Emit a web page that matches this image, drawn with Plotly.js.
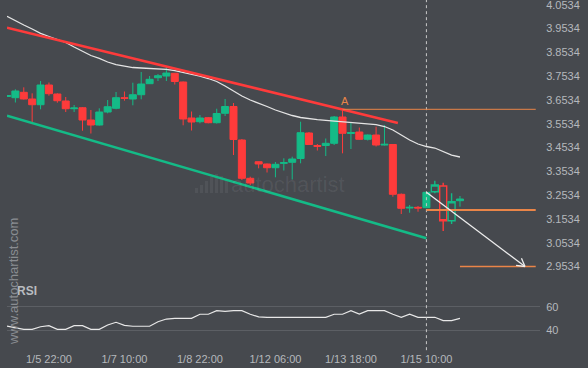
<!DOCTYPE html>
<html><head><meta charset="utf-8">
<script src="https://cdn.plot.ly/plotly-3.0.1.min.js"></script>
<style>html,body{margin:0;padding:0;background:#46494e;overflow:hidden}#chart{width:588px;height:368px}</style>
</head><body><div id="chart"></div>
<script>
// ---- data ----
const candleIndex = [0,1,2,3,4,5,6,7,8,9,10,11,12,13,14,15,16,17,18,19,20,21,22,23,24,25,26,27,28,29,30,31,32,33,34,35,36,37,38,39,40,41,42,43,44,45,46,47,48,49,50,51,52,53,54];
const openP  = [3.6677,3.6627,3.6853,3.6572,3.6332,3.7160,3.6782,3.6488,3.6164,3.6206,3.5690,3.5479,3.6026,3.6181,3.6627,3.6572,3.6752,3.7215,3.7467,3.7538,3.7652,3.7286,3.5774,3.5618,3.5786,3.5576,3.5971,3.6257,3.4849,3.3240,3.3937,3.3841,3.3685,3.3870,3.3912,3.4072,3.5143,3.4618,3.4618,3.4710,3.5816,3.5122,3.5185,3.4879,3.5059,3.4639,3.4660,3.2568,3.1992,3.2021,3.2005,3.2677,3.2916,3.1458,3.2299];
const highP  = [3.6740,3.6979,3.7063,3.6811,3.7328,3.7265,3.6811,3.6656,3.6320,3.6236,3.6110,3.6181,3.6530,3.6866,3.6887,3.7257,3.7706,3.7538,3.7622,3.7929,3.7664,3.7307,3.6047,3.5900,3.5816,3.6164,3.6572,3.6404,3.4891,3.3307,3.3946,3.3862,3.3925,3.4080,3.4148,3.5618,3.5185,3.4681,3.4912,3.5858,3.6173,3.5584,3.5374,3.5080,3.5408,3.5479,3.4681,3.2601,3.2118,3.2076,3.2664,3.3139,3.3055,3.2610,3.2496];
const lowP   = [3.6656,3.6425,3.6551,3.5605,3.6139,3.6711,3.6416,3.6026,3.6026,3.5240,3.5122,3.5458,3.5971,3.6139,3.6500,3.6307,3.6559,3.7202,3.7328,3.7328,3.7181,3.5467,3.5248,3.5551,3.5551,3.5542,3.5858,3.4219,3.3169,3.2958,3.3660,3.3484,3.3282,3.3568,3.3190,3.3870,3.4639,3.4408,3.4177,3.4639,3.4290,3.4471,3.4849,3.4828,3.4576,3.4618,3.2467,3.1740,3.1794,3.1836,3.1992,3.2610,3.1026,3.1320,3.2047];
const closeP = [3.6719,3.6908,3.6572,3.6332,3.7160,3.6795,3.6500,3.6164,3.6194,3.5690,3.5479,3.6026,3.6248,3.6627,3.6601,3.6752,3.7202,3.7400,3.7551,3.7664,3.7307,3.5732,3.5605,3.5774,3.5576,3.5963,3.6257,3.4870,3.3240,3.3042,3.3841,3.3685,3.3828,3.3895,3.4051,3.5156,3.4660,3.4584,3.4710,3.5816,3.5131,3.5164,3.4879,3.5059,3.4639,3.4668,3.2568,3.1979,3.2021,3.1992,3.2652,3.2958,3.1458,3.2257,3.2370];
const hollowCandles = [51,52,53];
const maValues = [4.0047,3.9849,3.9681,3.9513,3.9332,3.9198,3.9072,3.8946,3.8757,3.8589,3.8400,3.8282,3.8127,3.8021,3.7958,3.7895,3.7874,3.7853,3.7853,3.7820,3.7769,3.7694,3.7622,3.7538,3.7433,3.7307,3.7118,3.6908,3.6698,3.6530,3.6404,3.6257,3.6110,3.5984,3.5879,3.5795,3.5740,3.5702,3.5677,3.5648,3.5635,3.5618,3.5584,3.5555,3.5500,3.5416,3.5269,3.5059,3.4849,3.4681,3.4576,3.4513,3.4366,3.4219,3.4135];
const rsiValues = [43.4,42.3,40.6,40.6,42.8,43.7,40.6,40.6,43.7,43.7,40.6,40.6,44.3,46.6,44.0,43.2,43.2,43.2,47.1,49.4,50.0,50.0,50.0,53.5,53.5,56.6,56.0,56.6,56.6,53.5,51.2,50.9,50.9,50.9,50.9,50.9,50.9,50.9,50.9,53.5,53.5,56.6,53.7,56.6,56.6,56.6,53.5,50.9,53.5,50.9,50.9,50.9,48.0,48.0,50.0];
const xTickIndex = [5,14,23,32,41,50];
const xTickLabels = ['1/5 22:00','1/7 10:00','1/8 22:00','1/12 06:00','1/13 18:00','1/15 10:00'];
const priceTicks = [2.9534,3.0534,3.1534,3.2534,3.3534,3.4534,3.5534,3.6534,3.7534,3.8534,3.9534,4.0534];
const priceTickLabels = ['2.9534','3.0534','3.1534','3.2534','3.3534','3.4534','3.5534','3.6534','3.7534','3.8534','3.9534','4.0534'];
const rsiTicks = [40,60];
const resistanceX = [0,46.6];
const resistanceY = [3.9568,3.5563];
const supportX = [0,50];
const supportY = [3.5870,3.0719];
const patternIndex = 40, patternLevel = 3.6139;
const currentIndex = 50, currentPrice = 3.2652;
const entryLevel = 3.1908;
const targetLevel = 2.9534, targetIndex = 61.75, targetLineStart = 54;
const levelsEnd = 63.03;

// ---- styles ----
const BG = '#46494e', GREEN = '#14bb87', RED = '#fe3b3b', ORANGE = '#ea8548';
const TXT = '#b5b8bc';
const FONT = 'Liberation Sans, Arial, sans-serif';
const xRange = [0, 63.54], yRange = [2.8967, 4.0732];
const mL = 7, plotW = 533, plotH = 345, priceH = 280;

function pick(arr, idx){ return idx.map(i => arr[i]); }
const solidIdx = candleIndex.filter(i => hollowCandles.indexOf(i) < 0);

const traces = [
  {type:'candlestick', x:pick(candleIndex,solidIdx), open:pick(openP,solidIdx), high:pick(highP,solidIdx), low:pick(lowP,solidIdx), close:pick(closeP,solidIdx),
   increasing:{line:{color:GREEN,width:1},fillcolor:GREEN}, decreasing:{line:{color:RED,width:1},fillcolor:RED},
   whiskerwidth:0, xaxis:'x', yaxis:'y', hoverinfo:'skip'},
  {type:'candlestick', x:hollowCandles, open:pick(openP,hollowCandles), high:pick(highP,hollowCandles), low:pick(lowP,hollowCandles), close:pick(closeP,hollowCandles),
   increasing:{line:{color:GREEN,width:1.4},fillcolor:'rgba(0,0,0,0)'}, decreasing:{line:{color:RED,width:1.4},fillcolor:'rgba(0,0,0,0)'},
   whiskerwidth:0, xaxis:'x', yaxis:'y', hoverinfo:'skip'},
  {type:'scatter', mode:'lines', x:candleIndex, y:maValues, line:{color:'#e4e4e4',width:1.3}, xaxis:'x', yaxis:'y', hoverinfo:'skip'},
  {type:'scatter', mode:'lines', x:resistanceX, y:resistanceY, line:{color:RED,width:2.6}, xaxis:'x', yaxis:'y', hoverinfo:'skip'},
  {type:'scatter', mode:'lines', x:supportX, y:supportY, line:{color:GREEN,width:2.6}, xaxis:'x', yaxis:'y', hoverinfo:'skip'},
  {type:'scatter', mode:'lines', x:candleIndex, y:rsiValues, line:{color:'#e8e8e8',width:1.2}, xaxis:'x', yaxis:'y2', hoverinfo:'skip'}
];

// arrow head arms, computed from the pixel scale of the axes (pixel y grows downward)
const pxPerX = plotW/(xRange[1]-xRange[0]);
const pxPerY = priceH/(yRange[1]-yRange[0]);
const dxp = (targetIndex-currentIndex)*pxPerX, dyp = (currentPrice-targetLevel)*pxPerY;
const len = Math.hypot(dxp,dyp), ux = dxp/len, uy = dyp/len;
function arm(angle){
  const c=Math.cos(angle), s=Math.sin(angle), bx=-ux, by=-uy;
  const rx = bx*c - by*s, ry = bx*s + by*c, L = 9;
  return {type:'line', xref:'x', yref:'y', x0:targetIndex, y0:targetLevel, x1:targetIndex + rx*L/pxPerX, y1:targetLevel - ry*L/pxPerY, line:{color:'#eeeeee',width:1.3}};
}

// faint logo bars of the watermark (pixel boxes converted to paper coords)
const logoBars = [[195,188],[200,185],[205,181],[210,177],[215,174],[220,176],[225,179]];
const WM = 'rgba(255,255,255,0.06)';
const logoShapes = logoBars.map(b => ({type:'rect', xref:'paper', yref:'paper', layer:'below',
  x0:(b[0]-mL)/plotW, x1:(b[0]+3-mL)/plotW, y0:(plotH-193)/plotH, y1:(plotH-b[1])/plotH, line:{width:0}, fillcolor:WM}));

const shapes = [
  {type:'line', xref:'x', yref:'paper', x0:currentIndex, x1:currentIndex, y0:-0.015, y1:1, line:{color:'#c9c9c9',width:1,dash:'3px,3px'}},
  {type:'line', xref:'x', yref:'y', x0:patternIndex, x1:levelsEnd, y0:patternLevel, y1:patternLevel, line:{color:ORANGE,width:1}},
  {type:'line', xref:'x', yref:'y', x0:currentIndex, x1:levelsEnd, y0:entryLevel, y1:entryLevel, line:{color:ORANGE,width:1.8}},
  {type:'line', xref:'x', yref:'y', x0:targetLineStart, x1:levelsEnd, y0:targetLevel, y1:targetLevel, line:{color:ORANGE,width:1.5}},
  {type:'line', xref:'x', yref:'y', x0:currentIndex, y0:currentPrice, x1:targetIndex, y1:targetLevel, line:{color:'#eeeeee',width:1.3}},
  arm(Math.PI/6), arm(-Math.PI/6)
].concat(logoShapes);

const annotations = [
  {xref:'x', yref:'y', x:40.3, y:patternLevel, text:'A', showarrow:false, yanchor:'bottom', yshift:0, font:{family:FONT,size:11,color:ORANGE}},
  {xref:'paper', yref:'paper', x:0.015, y:0.156, xanchor:'left', yanchor:'middle', text:'<b>RSI</b>', showarrow:false, font:{family:FONT,size:12,color:'#b9bcc0'}},
  {xref:'paper', yref:'paper', x:(288-mL)/plotW, y:(plotH-185)/plotH, xanchor:'center', yanchor:'middle', text:'autochartist', showarrow:false, font:{family:FONT,size:22,color:'rgba(255,255,255,0.07)'}},
  {xref:'paper', yref:'paper', x:(13-mL)/plotW, y:(plotH-282)/plotH, xanchor:'center', yanchor:'middle', text:'www.autochartist.com', textangle:-90, showarrow:false, font:{family:FONT,size:13,color:'#8a8d92'}}
];

const layout = {
  width:588, height:368, paper_bgcolor:BG, plot_bgcolor:BG,
  margin:{l:mL,r:48,t:0,b:23,pad:0}, showlegend:false,
  boxgap:0.165, boxgroupgap:0, hovermode:false,
  font:{family:FONT,size:11,color:TXT},
  xaxis:{domain:[0,1], range:xRange, anchor:'y2', showgrid:false, zeroline:false, showline:false,
         tickmode:'array', tickvals:xTickIndex, ticktext:xTickLabels, ticks:'outside', ticklen:4, tickcolor:'rgba(0,0,0,0)',
         tickfont:{family:FONT,size:11,color:TXT}, rangeslider:{visible:false}, fixedrange:true},
  yaxis:{domain:[1-priceH/plotH,1], range:yRange, side:'right', anchor:'x', showgrid:false, zeroline:false, showline:false,
         tickmode:'array', tickvals:priceTicks, ticktext:priceTickLabels, ticks:'outside', ticklen:3, tickcolor:'rgba(0,0,0,0)',
         ticklabeloverflow:'allow', tickfont:{family:FONT,size:11,color:TXT}},
  yaxis2:{domain:[0,60/plotH], range:[27.13,78.6], side:'right', anchor:'x', showgrid:true, gridcolor:'#5c5f64', gridwidth:1, zeroline:false, showline:false,
         tickmode:'array', tickvals:rsiTicks, ticks:'outside', ticklen:3, tickcolor:'rgba(0,0,0,0)',
         tickfont:{family:FONT,size:11,color:TXT}},
  shapes:shapes, annotations:annotations
};

Plotly.newPlot('chart', traces, layout, {staticPlot:true, displayModeBar:false});
</script></body></html>
